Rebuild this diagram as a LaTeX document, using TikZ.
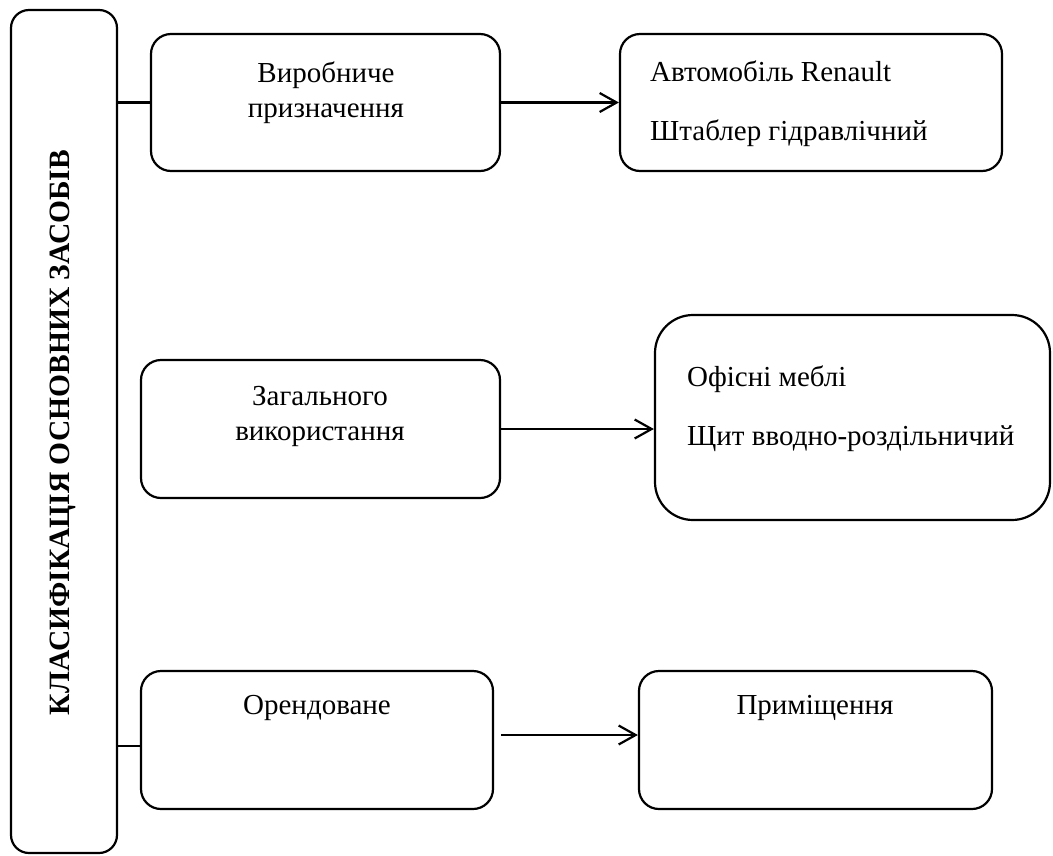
\documentclass[tikz,border=0pt]{standalone}
\usepackage{fontspec}
\setmainfont{Liberation Serif}
\usetikzlibrary{positioning,arrows.meta}

\begin{document}
\begin{tikzpicture}[x=1pt, y=-1pt,
  mybox/.style={draw, line width=2.2pt, rounded corners=20pt, inner sep=0pt},
  bigbox/.style={mybox, rounded corners=38pt},
  mytitle/.style={inner sep=0pt, font=\fontsize{29.5}{35}\selectfont\bfseries},
  mytext/.style={inner sep=0pt, font=\fontsize{29}{35}\selectfont},
  myline/.style={line width=2.2pt},
  myarrow/.style={myline, -{Straight Barb[length=17pt, width=19pt, line width=2.2pt]}}
  ]
  \useasboundingbox (0,0) rectangle (1053,855);

  % classification column
  \node[mybox, rounded corners=18pt, minimum width=106pt, minimum height=843pt] (main) at (64,431.5) {};
  \node[mytitle, rotate=90] (title) at (63,432.5) {КЛАСИФІКАЦІЯ ОСНОВНИХ ЗАСОБІВ};

  % groups
  \node[mybox, minimum width=349pt, minimum height=137pt] (b1) at (325.5,102.5) {};
  \node[mybox, minimum width=359pt, minimum height=138pt] (b3) at (320.5,429) {};
  \node[mybox, minimum width=352pt, minimum height=138pt] (b5) at (317,740) {};

  % examples
  \node[mybox, minimum width=382pt, minimum height=137pt] (b2) at (811,102.5) {};
  \node[bigbox, minimum width=395pt, minimum height=205pt] (b4) at (852.5,417.5) {};
  \node[mybox, minimum width=353pt, minimum height=138pt] (b6) at (815.5,740) {};

  % texts
  \node[mytext, anchor=base] (t1a) at (326,82) {Виробниче};
  \node[mytext, anchor=base] (t1b) at (326,117) {призначення};
  \node[mytext, anchor=base west] (t2a) at (650,81) {Автомобіль Renault};
  \node[mytext, anchor=base west] (t2b) at (650,140) {Штаблер гідравлічний};
  \node[mytext, anchor=base] (t3a) at (320,405) {Загального};
  \node[mytext, anchor=base] (t3b) at (320,440) {використання};
  \node[mytext, anchor=base west] (t4a) at (687,386) {Офісні меблі};
  \node[mytext, anchor=base west] (t4b) at (687,445) {Щит вводно-роздільничий};
  \node[mytext, anchor=base] (t5) at (317,714) {Орендоване};
  \node[mytext, anchor=base] (t6) at (815,714) {Приміщення};

  \draw[myline] (b1.west -| main.east) -- (b1.west);
  \draw[myline] ([yshift=-6pt]b5.west -| main.east) -- ([yshift=-6pt]b5.west);
  \draw[myarrow] (b1.east) -- (b2.west);
  \draw[myarrow] (b3.east) -- (b3.east -| b4.west);
  \draw[myarrow, shorten <=7pt] ([yshift=5pt]b5.east) -- ([yshift=5pt]b6.west);
\end{tikzpicture}
\end{document}
